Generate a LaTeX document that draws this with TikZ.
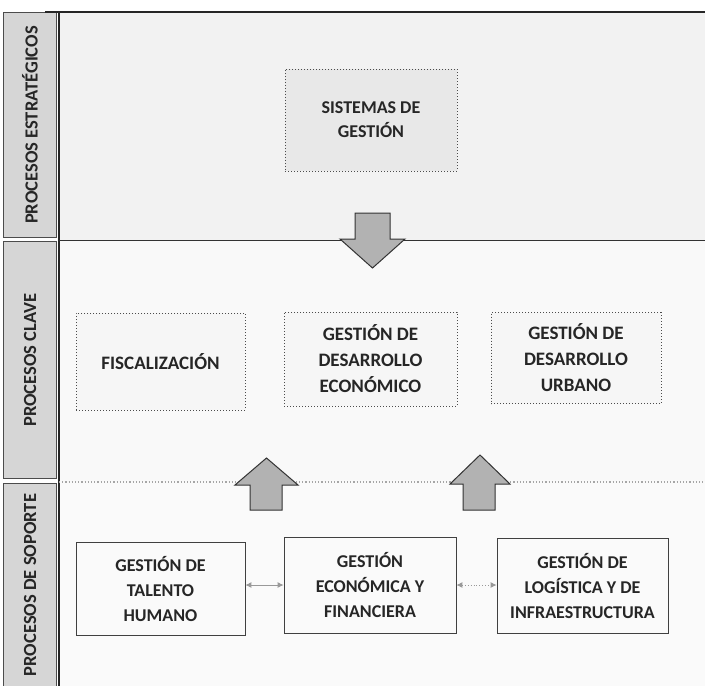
\documentclass[tikz,border=0pt]{standalone}
\usepackage{fontspec}
\setmainfont{Carlito}
\usetikzlibrary{arrows.meta}
\begin{document}
\begin{tikzpicture}[x=1pt,y=-1pt,
  lanelabel/.style={draw=black!70, fill=gray!32, line width=0.6pt},
  labeltext/.style={rotate=90, font=\fontsize{18.5}{20}\selectfont\bfseries, text=black!85},
  sysbox/.style={draw=black!70, dotted, line width=1pt, fill=gray!18, align=center,
    minimum width=172pt, minimum height=102pt, inner sep=0pt,
    font=\fontsize{18}{24}\selectfont\bfseries, text=black!85},
  keybox/.style={draw=black!70, dotted, line width=1pt, fill=gray!7, align=center,
    inner sep=0pt, font=\fontsize{19}{26}\selectfont\bfseries, text=black!85},
  supbox/.style={draw=black!75, line width=0.8pt, fill=gray!4, align=center,
    inner sep=0pt, font=\fontsize{18}{25}\selectfont\bfseries, text=black!85},
  blockarrow/.style={draw=black!80, line width=1pt, fill=gray!60},
  link/.style={draw=gray!80, line width=0.9pt, {Latex[length=6pt,width=6pt]}-{Latex[length=6pt,width=6pt]}},
]
\useasboundingbox (0,0) rectangle (705,686);
\fill[white] (0,0) rectangle (705,686);
% lane backgrounds
\fill[gray!10] (60,12) rectangle (705,240);
\fill[gray!5] (60,240) rectangle (705,482);
\fill[gray!4] (60,482) rectangle (705,686);
% lane label column
\draw[lanelabel] (3,12) rectangle (56,237);
\draw[lanelabel] (3,241) rectangle (56,478);
\draw[lanelabel] (3,483) rectangle (56,686);
\node[labeltext] (l1) at (30,125) {PROCESOS ESTRATÉGICOS};
\node[labeltext] (l2) at (30,360) {PROCESOS CLAVE};
\node[labeltext] (l3) at (30,585) {PROCESOS DE SOPORTE};
% lane lines
\draw[black!85, line width=1.2pt] (45,12) -- (705,12);
\draw[black!85, line width=1.2pt] (59,12) -- (59,686);
\draw[black!80, line width=1pt] (59,240) -- (705,240);
\draw[gray!70, dotted, line width=1.2pt] (59,482) -- (705,482);
% boxes
\node[sysbox] (sg) at (371,120) {SISTEMAS DE\\GESTIÓN};
\node[keybox, minimum width=169pt, minimum height=97pt] (fis) at (160.5,361.5) {FISCALIZACIÓN};
\node[keybox, minimum width=173pt, minimum height=94pt] (gde) at (370.5,359) {GESTIÓN DE\\DESARROLLO\\ECONÓMICO};
\node[keybox, minimum width=170pt, minimum height=91pt] (gdu) at (576,358) {GESTIÓN DE\\DESARROLLO\\URBANO};
\node[supbox, minimum width=169pt, minimum height=93pt] (gth) at (160.5,588.5) {GESTIÓN DE\\TALENTO\\HUMANO};
\node[supbox, minimum width=172pt, minimum height=96pt] (gef) at (370,585) {GESTIÓN\\ECONÓMICA Y\\FINANCIERA};
\node[supbox, minimum width=171pt, minimum height=95pt] (gli) at (582.5,585.5) {GESTIÓN DE\\LOGÍSTICA Y DE\\INFRAESTRUCTURA};
% block arrows
\draw[blockarrow] (355,213) -- (390,213) -- (390,239) -- (405,239) -- (372.5,268) -- (340,239) -- (355,239) -- cycle;
\draw[blockarrow] (250,510) -- (282,510) -- (282,485) -- (298,485) -- (266.5,458) -- (235,485) -- (250,485) -- cycle;
\draw[blockarrow] (463,510) -- (495,510) -- (495,484) -- (510,484) -- (480,455) -- (450,484) -- (463,484) -- cycle;
% connectors
\draw[link] (gth.east |- 0,585) -- (gef.west |- 0,585);
\draw[link, dotted] (gef.east |- 0,585) -- (gli.west |- 0,585);
\end{tikzpicture}
\end{document}
